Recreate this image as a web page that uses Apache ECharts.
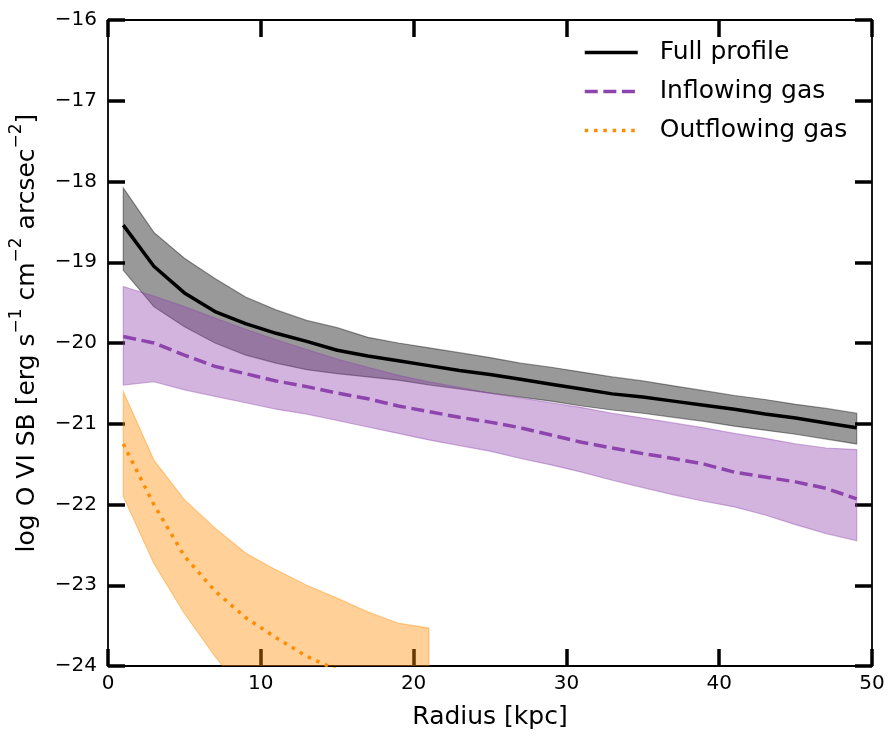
<!DOCTYPE html>
<html>
<head>
<meta charset="utf-8">
<script src="https://cdn.jsdelivr.net/npm/echarts@6/dist/echarts.min.js"></script>
<style>html,body{margin:0;padding:0;background:#fff}#c{width:888px;height:736px}</style>
</head>
<body>
<div id="c"></div>
<script>
// ---- data ----
const radius = [1,3,5,7,9,11,13,15,17,19,21,23,25,27,29,31,33,35,37,39,41,43,45,47,49];
const fullMed = [-18.54,-19.05,-19.38,-19.61,-19.76,-19.88,-19.98,-20.09,-20.16,-20.22,-20.28,-20.34,-20.39,-20.45,-20.51,-20.57,-20.63,-20.67,-20.72,-20.77,-20.82,-20.88,-20.93,-20.99,-21.05];
const fullHi  = [-18.08,-18.63,-18.95,-19.20,-19.43,-19.59,-19.72,-19.81,-19.93,-20.00,-20.06,-20.12,-20.18,-20.25,-20.30,-20.36,-20.42,-20.47,-20.53,-20.59,-20.65,-20.70,-20.76,-20.81,-20.87];
const fullLo  = [-19.10,-19.55,-19.80,-20.00,-20.15,-20.25,-20.33,-20.38,-20.42,-20.46,-20.52,-20.57,-20.62,-20.67,-20.72,-20.78,-20.83,-20.87,-20.92,-20.97,-21.03,-21.08,-21.13,-21.19,-21.25];
const inMed = [-19.92,-20.00,-20.15,-20.29,-20.38,-20.47,-20.54,-20.62,-20.69,-20.78,-20.85,-20.92,-20.98,-21.05,-21.14,-21.23,-21.30,-21.37,-21.43,-21.50,-21.60,-21.66,-21.72,-21.80,-21.93];
const inHi  = [-19.30,-19.42,-19.55,-19.69,-19.83,-19.96,-20.08,-20.20,-20.30,-20.40,-20.48,-20.55,-20.62,-20.68,-20.74,-20.80,-20.87,-20.93,-20.99,-21.05,-21.12,-21.18,-21.25,-21.30,-21.32];
const inLo  = [-20.52,-20.48,-20.58,-20.66,-20.74,-20.82,-20.88,-20.96,-21.04,-21.12,-21.20,-21.27,-21.34,-21.43,-21.51,-21.60,-21.70,-21.79,-21.88,-21.96,-22.03,-22.13,-22.25,-22.36,-22.45];
const outRadius = [1,3,5,7,9,11,13,15,17,19,21];
const outMed = [-21.25,-22.00,-22.64,-23.07,-23.40,-23.65,-23.88,-24.05,-24.20,-24.35,-24.50];
const outHi  = [-20.60,-21.45,-21.94,-22.29,-22.60,-22.81,-23.00,-23.16,-23.33,-23.47,-23.53];
const outLo  = [-21.90,-22.73,-23.35,-23.88,-24.35,-24.80,-25.20,-25.60,-26.00,-26.40,-26.80];
const xTicks = [0,10,20,30,40,50];
const yTicks = [-24,-23,-22,-21,-20,-19,-18,-17,-16];
const seriesNames = ['Full profile','Inflowing gas','Outflowing gas'];

const FONT = 'DejaVu Sans';
const minus = v => String(v).replace('-', '\u2212');

function band(xs, lo, hi, color) {
  return {
    type: 'custom', silent: true, clip: true,
    data: xs.map((x, i) => [x, lo[i], hi[i]]),
    encode: { x: 0, y: [1, 2] },
    renderItem: function (params, api) {
      if (params.dataIndex !== 0) return null;
      const pts = [];
      for (let i = 0; i < xs.length; i++) pts.push(api.coord([xs[i], hi[i]]));
      for (let i = xs.length - 1; i >= 0; i--) pts.push(api.coord([xs[i], lo[i]]));
      return { type: 'polygon', shape: { points: pts }, style: { fill: color, stroke: color, lineWidth: 1.2 } };
    }
  };
}

const tickStyle = { show: true, inside: true, length: 17, lineStyle: { color: '#000', width: 3.5 } };
const lineAx = { show: true, onZero: false, lineStyle: { color: '#000', width: 1.8 } };

const chart = echarts.init(document.getElementById('c'), null, { renderer: 'canvas' });
chart.setOption({
  animation: false,
  backgroundColor: '#fff',
  grid: { left: 108, right: 16, top: 20, bottom: 70 },
  legend: {
    data: seriesNames, orient: 'vertical', left: 583, top: 40, padding: 0,
    itemWidth: 53, itemHeight: 14, itemGap: 14,
    itemStyle: { opacity: 0 },
    lineStyle: { width: 3.5 },
    textStyle: { fontFamily: FONT, fontSize: 25, color: '#000', padding: [0, 0, 0, 17] },
    selectedMode: false
  },
  xAxis: [
    { type: 'value', min: 0, max: 50, interval: 10, position: 'bottom',
      axisLine: lineAx, axisTick: tickStyle, splitLine: { show: false },
      axisLabel: { fontFamily: FONT, fontSize: 20, color: '#000', margin: 8, formatter: v => minus(v) },
      name: 'Radius [kpc]', nameLocation: 'middle', nameGap: 39,
      nameTextStyle: { fontFamily: FONT, fontSize: 25, color: '#000' } },
    { type: 'value', min: 0, max: 50, interval: 10, position: 'top',
      axisLine: lineAx, axisTick: tickStyle, splitLine: { show: false }, axisLabel: { show: false } }
  ],
  yAxis: [
    { type: 'value', min: -24, max: -16, interval: 1, position: 'left',
      axisLine: lineAx, axisTick: tickStyle, splitLine: { show: false },
      axisLabel: { fontFamily: FONT, fontSize: 20, color: '#000', margin: 11, formatter: v => minus(v) },
      name: '{n|log O VI SB [erg s}{s|\u22121}{n| cm}{s|\u22122}{n| arcsec}{s|\u22122}{n|]}',
      nameLocation: 'middle', nameGap: 68,
      nameTextStyle: { fontFamily: FONT, fontSize: 25, color: '#000', padding: [0, 0, 0, 20],
        rich: {
          n: { fontFamily: FONT, fontSize: 25, color: '#000', verticalAlign: 'bottom', lineHeight: 32 },
          s: { fontFamily: FONT, fontSize: 17, color: '#000', verticalAlign: 'top', lineHeight: 20 }
        } } },
    { type: 'value', min: -24, max: -16, interval: 1, position: 'right',
      axisLine: lineAx, axisTick: tickStyle, splitLine: { show: false }, axisLabel: { show: false } }
  ],
  series: [
    band(radius, fullLo, fullHi, 'rgba(0,0,0,0.4)'),
    { name: seriesNames[0], type: 'line', data: radius.map((x, i) => [x, fullMed[i]]), symbol: 'none', clip: true,
      lineStyle: { color: '#000', width: 3.5, cap: 'butt' }, itemStyle: { color: '#000' }, z: 3 },
    band(radius, inLo, inHi, 'rgba(142,68,173,0.4)'),
    { name: seriesNames[1], type: 'line', data: radius.map((x, i) => [x, inMed[i]]), symbol: 'none', clip: true,
      lineStyle: { color: '#8e44ad', width: 3.5, type: [13, 5.6], cap: 'butt' }, itemStyle: { color: '#8e44ad' }, z: 3 },
    band(outRadius, outLo, outHi, 'rgba(255,140,0,0.4)'),
    { name: seriesNames[2], type: 'line', data: outRadius.map((x, i) => [x, outMed[i]]), symbol: 'none', clip: true,
      lineStyle: { color: '#ff8c00', width: 3.5, type: [3.5, 5.8], cap: 'butt' }, itemStyle: { color: '#ff8c00' }, z: 3 }
  ]
});
</script>
</body>
</html>
